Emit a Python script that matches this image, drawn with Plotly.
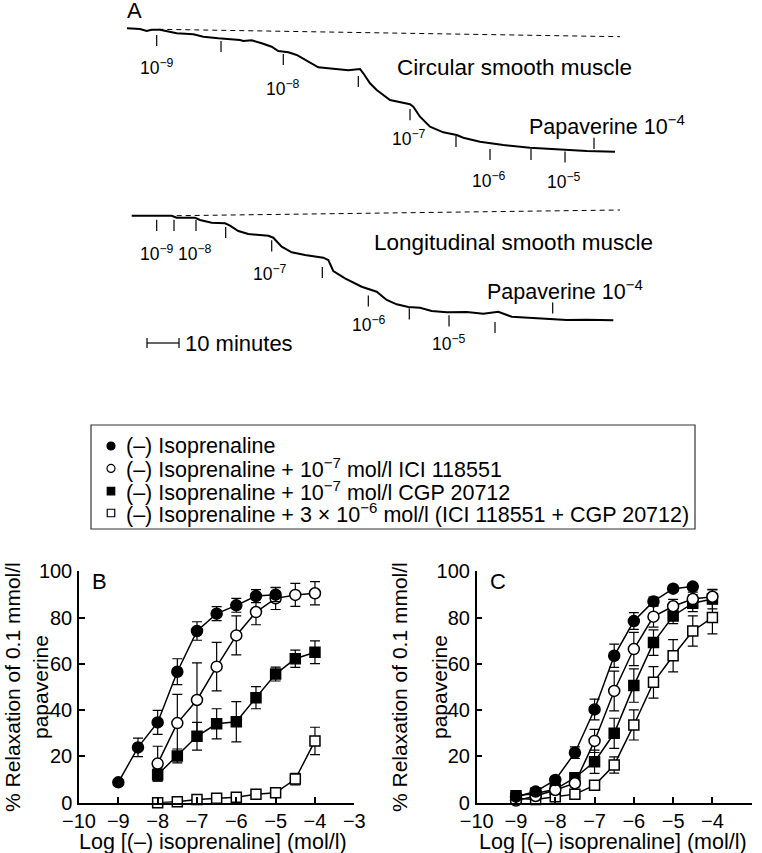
import plotly.graph_objects as go

FONT = "Liberation Sans, Arial, Helvetica, sans-serif"
W, H = 762, 853


def px(x):
    return x / W


def py(y):
    return 1 - y / H


# ---------------- Panel A: isometric tension recordings ----------------
# time in minutes, tension in arbitrary units (read from the tracing)
circ_time = [0.0, 4.06, 6.16, 7.72, 10.31, 12.91, 15.53, 20.72, 23.84, 28.53, 31.66, 35.31,
             36.34, 38.97, 42.09, 45.22, 47.28, 50.41, 53.03, 56.66, 59.78, 62.91, 67.09,
             69.16, 72.81, 73.84, 75.94, 78.03, 82.19, 86.34, 88.44, 89.47, 91.56, 94.69,
             98.84, 103.03, 105.09, 110.31, 117.59, 125.94, 136.34, 143.66, 152.5]
circ_tension = [35.17, 35.10, 34.90, 35.03, 35.03, 34.83, 34.67, 34.57, 34.33, 34.17, 34.10,
                34.00, 33.90, 33.97, 33.67, 33.33, 32.90, 32.77, 32.50, 31.83, 31.27, 31.17,
                31.07, 30.97, 31.10, 30.67, 29.67, 29.00, 28.00, 27.67, 27.57, 27.33, 26.33,
                25.33, 24.77, 24.50, 24.23, 23.83, 23.50, 23.23, 23.00, 22.90, 22.83]
circ_base_time = [9.78, 154.06]
circ_base_tension = [35.07, 34.33]
circ_add_time = [9.28, 29.38, 48.84, 72.28, 88.44, 102.81, 113.44, 126.25, 136.88, 145.94]
circ_add_tension = [33.95, 33.35, 32.05, 29.85, 26.53, 23.85, 22.55, 22.55, 22.30, 23.67]
circ_labels = ["10<sup>−9</sup>", "10<sup>−8</sup>", "10<sup>−7</sup>", "10<sup>−6</sup>", "10<sup>−5</sup>"]
circ_label_time = [9.28, 48.84, 88.13, 113.13, 136.56]
circ_label_tension = [31.33, 29.23, 24.17, 20.0, 19.9]

long_time = [1.47, 13.97, 15.53, 21.25, 22.81, 26.47, 30.63, 32.19, 34.78, 37.91, 44.16,
             45.72, 48.34, 51.47, 55.63, 61.34, 62.91, 64.47, 68.13, 73.34, 78.03, 81.16,
             84.28, 87.91, 91.56, 95.22, 99.91, 106.16, 111.34, 116.03, 120.22, 128.03,
             137.41, 143.66, 151.97]
long_tension = [16.43, 16.43, 16.23, 16.23, 16.00, 15.73, 15.67, 15.43, 14.90, 14.60, 14.43,
                14.23, 13.33, 12.77, 12.50, 12.23, 12.00, 10.90, 10.17, 9.33, 8.83, 8.00,
                7.57, 7.30, 7.23, 6.90, 6.77, 6.80, 6.63, 6.83, 6.33, 6.17, 6.00, 6.03, 5.97]
long_base_time = [15.53, 154.06]
long_base_tension = [16.43, 17.0]
long_add_time = [9.28, 14.69, 21.56, 30.84, 45.22, 61.03, 75.41, 88.22, 100.63, 115.0, 133.03]
long_add_tension = [15.47, 15.47, 15.47, 14.75, 13.42, 10.75, 7.90, 6.62, 5.92, 5.25, 7.20]
long_labels = ["10<sup>−9</sup>", "10<sup>−8</sup>", "10<sup>−7</sup>", "10<sup>−6</sup>", "10<sup>−5</sup>"]
long_label_time = [9.28, 21.25, 44.69, 75.63, 100.63]
long_label_tension = [12.7, 12.7, 10.7, 5.6, 3.7]

scale_minutes = 10

# ---------------- Panels B and C: concentration-response curves ----------------
log_conc = [-9, -8.5, -8, -7.5, -7, -6.5, -6, -5.5, -5, -4.5, -4]

series_names = [
    "(–) Isoprenaline",
    "(–) Isoprenaline + 10<sup>−7</sup> mol/l ICI 118551",
    "(–) Isoprenaline + 10<sup>−7</sup> mol/l CGP 20712",
    "(–) Isoprenaline + 3 × 10<sup>−6</sup> mol/l (ICI 118551 + CGP 20712)",
]

# Panel B (circular muscle)
b_iso_x = [-9, -8.5, -8, -7.5, -7, -6.5, -6, -5.5, -5]
b_iso_y = [8.8, 23.9, 34.7, 56.6, 74.2, 81.7, 85.3, 89.3, 89.9]
b_iso_e = [1.0, 4.0, 5.2, 5.6, 4.0, 3.0, 3.0, 2.8, 3.0]
b_ici_x = [-8, -7.5, -7, -6.5, -6, -5.5, -5, -4.5, -4]
b_ici_y = [16.9, 34.4, 44.4, 58.8, 72.3, 82.4, 88.3, 89.8, 90.5]
b_ici_e = [7.5, 12.4, 16.0, 10.5, 8.4, 5.5, 4.8, 5.0, 5.0]
b_cgp_x = [-8, -7.5, -7, -6.5, -6, -5.5, -5, -4.5, -4]
b_cgp_y = [12.1, 20.2, 28.7, 34.1, 35.0, 45.4, 55.6, 62.2, 65.0]
b_cgp_e = [2.8, 3.0, 6.0, 6.5, 8.7, 4.8, 3.0, 3.7, 4.9]
b_both_x = [-8, -7.5, -7, -6.5, -6, -5.5, -5, -4.5, -4]
b_both_y = [0.0, 0.4, 1.4, 1.9, 2.4, 3.6, 4.3, 10.2, 26.7]
b_both_e = [0, 0, 0, 0, 0, 0.8, 1.5, 2.5, 5.9]

# Panel C (longitudinal muscle)
c_iso_x = [-9, -8.5, -8, -7.5, -7, -6.5, -6, -5.5, -5, -4.5]
c_iso_y = [2.6, 4.8, 9.8, 21.6, 40.3, 63.5, 78.5, 87.0, 92.5, 93.4]
c_iso_e = [0.5, 1.5, 1.5, 2.5, 4.5, 5.0, 3.6, 1.8, 1.3, 1.3]
c_ici_x = log_conc
c_ici_y = [0.9, 2.9, 5.5, 8.4, 26.7, 48.3, 66.4, 80.4, 84.9, 88.0, 89.0]
c_ici_e = [0.5, 1.0, 1.0, 1.5, 5.0, 8.6, 7.2, 4.5, 3.0, 3.0, 3.0]
c_cgp_x = log_conc
c_cgp_y = [3.0, 4.0, 5.8, 10.8, 17.7, 30.0, 50.6, 69.2, 80.7, 86.2, 88.0]
c_cgp_e = [0.8, 2.5, 1.5, 2.0, 5.0, 6.5, 7.2, 5.5, 3.3, 3.6, 4.2]
c_both_x = log_conc
c_both_y = [1.9, 1.4, 2.6, 3.7, 7.5, 16.3, 33.6, 52.0, 63.5, 74.2, 80.0]
c_both_e = [0.5, 0.5, 0.8, 0.8, 1.0, 3.5, 6.5, 6.8, 7.0, 6.5, 7.0]

x_ticks = [-10, -9, -8, -7, -6, -5, -4, -3]
y_ticks = [0, 20, 40, 60, 80, 100]

styles = [
    dict(symbol="circle", color="black", size=11),
    dict(symbol="circle", color="white", size=11),
    dict(symbol="square", color="black", size=10),
    dict(symbol="square", color="white", size=10),
]

fig = go.Figure()

# ---- Panel A traces
for t, v in [(circ_time, circ_tension), (long_time, long_tension)]:
    fig.add_trace(go.Scatter(x=t, y=v, mode="lines", line=dict(color="black", width=2),
                             xaxis="x", yaxis="y", showlegend=False, hoverinfo="skip"))
for t, v in [(circ_base_time, circ_base_tension), (long_base_time, long_base_tension)]:
    fig.add_trace(go.Scatter(x=t, y=v, mode="lines",
                             line=dict(color="black", width=1, dash="5px,4px"),
                             xaxis="x", yaxis="y", showlegend=False, hoverinfo="skip"))
for t, v in [(circ_add_time, circ_add_tension), (long_add_time, long_add_tension)]:
    fig.add_trace(go.Scatter(x=t, y=v, mode="markers",
                             marker=dict(symbol="line-ns", size=8,
                                         line=dict(color="black", width=1.2)),
                             xaxis="x", yaxis="y", showlegend=False, hoverinfo="skip"))
# 10-minute scale bar
sb0 = 6.25
sb1 = sb0 + scale_minutes
sby = 3.7
fig.add_trace(go.Scatter(x=[sb0, sb0, None, sb0, sb1, None, sb1, sb1],
                         y=[sby - 0.5, sby + 0.5, None, sby, sby, None, sby - 0.5, sby + 0.5],
                         mode="lines", line=dict(color="black", width=1.2),
                         xaxis="x", yaxis="y", showlegend=False, hoverinfo="skip"))


# ---- Panels B and C
def add_series(xs, ys, es, style, xa, ya):
    fig.add_trace(go.Scatter(
        x=xs, y=ys, mode="lines+markers", xaxis=xa, yaxis=ya, showlegend=False,
        line=dict(color="black", width=1.5),
        marker=dict(symbol=style["symbol"], size=style["size"], color=style["color"],
                    line=dict(color="black", width=1.5)),
        error_y=dict(type="data", array=es, visible=True, color="black",
                     thickness=1.2, width=5),
        cliponaxis=False))


panel_b = [(b_iso_x, b_iso_y, b_iso_e), (b_ici_x, b_ici_y, b_ici_e),
           (b_cgp_x, b_cgp_y, b_cgp_e), (b_both_x, b_both_y, b_both_e)]
panel_c = [(c_iso_x, c_iso_y, c_iso_e), (c_ici_x, c_ici_y, c_ici_e),
           (c_cgp_x, c_cgp_y, c_cgp_e), (c_both_x, c_both_y, c_both_e)]
for i in [3, 2, 1, 0]:
    add_series(*panel_b[i], styles[i], "x2", "y2")
for i in [3, 2, 1, 0]:
    add_series(*panel_c[i], styles[i], "x3", "y3")

# ---- Legend (manual, inside framed box)
legend_rows = [0.798, 0.582, 0.365, 0.154]
for i, st in enumerate(styles):
    fig.add_trace(go.Scatter(
        x=[0.0331], y=[legend_rows[i]], mode="markers", xaxis="x4", yaxis="y4",
        showlegend=False, hoverinfo="skip",
        marker=dict(symbol=st["symbol"], size=8 if st["symbol"] == "circle" else 7.5,
                    color=st["color"], line=dict(color="black", width=1.2))))

annotations = []


def ann(text, x, y, xref, yref, size=21, xanchor="center", yanchor="middle", angle=0):
    annotations.append(dict(text=text, x=x, y=y, xref=xref, yref=yref, showarrow=False,
                            xanchor=xanchor, yanchor=yanchor, textangle=angle,
                            font=dict(family=FONT, size=size, color="black")))


for i, name in enumerate(series_names):
    ann(name, 0.0546, legend_rows[i], "x4", "y4", size=21.5, xanchor="left")

# Panel A labels
ann("A", 2.19, 37.0, "x", "y", size=22)
for lab, t, v in zip(circ_labels, circ_label_time, circ_label_tension):
    ann(lab, t, v, "x", "y", size=17.5)
for lab, t, v in zip(long_labels, long_label_time, long_label_tension):
    ann(lab, t, v, "x", "y", size=17.5)
ann("Circular smooth muscle", 83.75, 31.3, "x", "y", size=22.5, xanchor="left")
ann("Longitudinal smooth muscle", 76.56, 13.8, "x", "y", size=22.5, xanchor="left")
ann("Papaverine 10<sup>−4</sup>", 125.0, 25.5, "x", "y", size=21.5, xanchor="left")
ann("Papaverine 10<sup>−4</sup>", 111.9, 9.0, "x", "y", size=21.5, xanchor="left")
ann("10 minutes", sb1 + 1.25, sby, "x", "y", size=22, xanchor="left")

# Panels B/C labels and titles
ann("B", -9.47, 95.4, "x2", "y2", size=22)
ann("C", -9.45, 95.4, "x3", "y3", size=22)
ytitle_y = py(687)
ann("% Relaxation of 0.1 mmol/l", px(12), ytitle_y, "paper", "paper", angle=-90)
ann("papaverine", px(40), ytitle_y, "paper", "paper", angle=-90)
ann("% Relaxation of 0.1 mmol/l", px(399), ytitle_y, "paper", "paper", angle=-90)
ann("papaverine", px(439), ytitle_y, "paper", "paper", angle=-90)
ann("Log [(–) isoprenaline] (mol/l)", px(213), py(842), "paper", "paper", size=21.5)
ann("Log [(–) isoprenaline] (mol/l)", px(613), py(842), "paper", "paper", size=21.5)

axis_common = dict(showline=True, linecolor="black", linewidth=1.5, ticks="inside",
                   ticklen=6, tickwidth=1.5, tickcolor="black", showgrid=False,
                   zeroline=False, automargin=False,
                   tickfont=dict(family=FONT, size=20, color="black"))

xB = [px(79), px(354.3)]
xC = [px(476.7), px(751.7)]
yBC = [py(802.7), py(571.3)]

fig.update_layout(
    width=W, height=H, margin=dict(l=0, r=0, t=0, b=0, autoexpand=False),
    paper_bgcolor="white", plot_bgcolor="rgba(0,0,0,0)",
    font=dict(family=FONT, color="black"),
    showlegend=False,
    xaxis=dict(domain=[0, 1], range=[-127 / 3.2, (762 - 127) / 3.2],
               visible=False, automargin=False),
    yaxis=dict(domain=[py(380), 1], range=[0, 38.0], visible=False, automargin=False),
    xaxis2=dict(domain=xB, range=[-10, -3], tickvals=x_ticks, anchor="y2", **axis_common),
    yaxis2=dict(domain=yBC, range=[0, 100], tickvals=y_ticks, anchor="x2",
                ticklabelstandoff=1, **axis_common),
    xaxis3=dict(domain=xC, range=[-10, -3], tickvals=x_ticks, anchor="y3", **axis_common),
    yaxis3=dict(domain=yBC, range=[0, 100], tickvals=y_ticks, anchor="x3",
                ticklabelstandoff=1, **axis_common),
    xaxis4=dict(domain=[px(91), px(695)], range=[0, 1], visible=False, anchor="y4",
                automargin=False),
    yaxis4=dict(domain=[py(529), py(425)], range=[0, 1], visible=False, anchor="x4",
                automargin=False),
    annotations=annotations,
    shapes=[dict(type="rect", xref="paper", yref="paper", x0=px(91), x1=px(695),
                 y0=py(529), y1=py(425), line=dict(color="#333", width=1.2))],
)

# remove the default 8 px page margin so the figure fills the window exactly
fig.write_html("out.html", config={"displayModeBar": False},
               post_script="document.body.style.margin='0';document.body.style.overflow='hidden';")
